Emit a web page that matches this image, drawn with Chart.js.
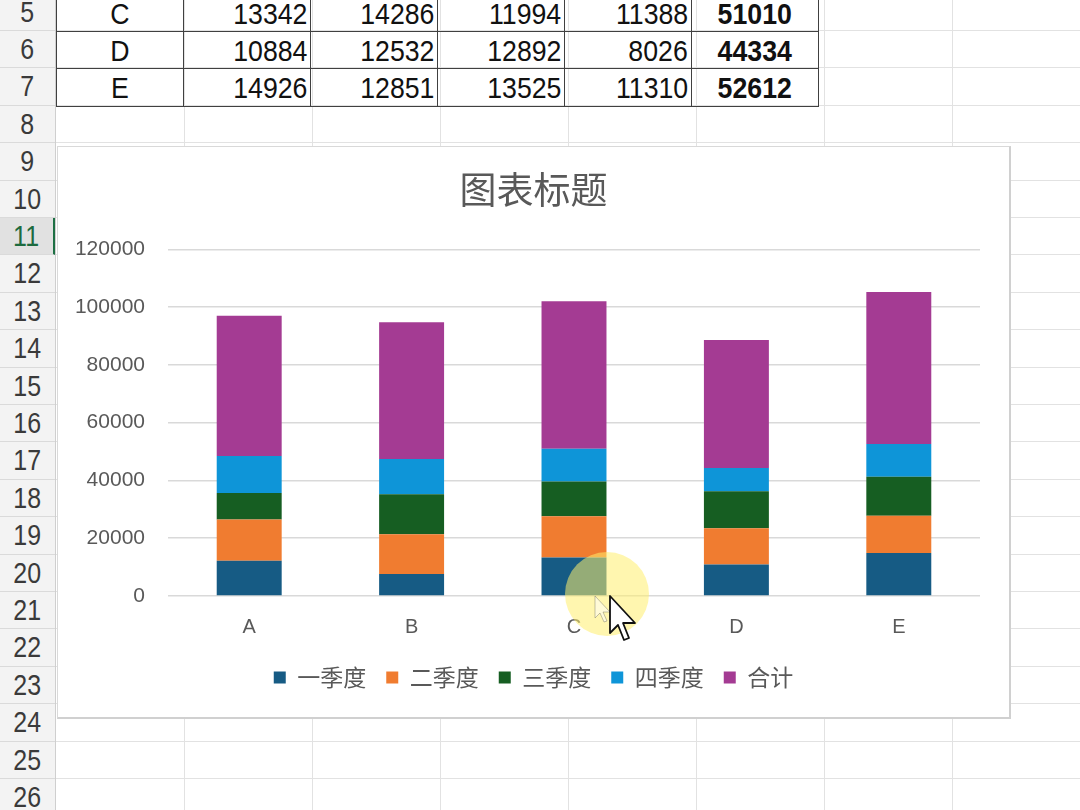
<!DOCTYPE html>
<html>
<head>
<meta charset="utf-8">
<script src="https://cdn.jsdelivr.net/npm/chart.js@4/dist/chart.umd.min.js"></script>
<style>
  html, body { margin: 0; padding: 0; }
  body {
    width: 1080px; height: 810px; overflow: hidden; position: relative;
    background: #fff; font-family: "Liberation Sans", sans-serif;
  }
  #sheet { position: absolute; left: 0; top: 0; width: 1080px; height: 810px; }
  .hline { position: absolute; left: 56px; width: 1024px; height: 1px; background: #e2e2e2; }
  .vline { position: absolute; top: 0; width: 1px; height: 810px; background: #e2e2e2; }
  .rowhead {
    position: absolute; left: 0; width: 55px; background: #f3f3f3;
    border-bottom: 1px solid #dadada; box-sizing: border-box;
    color: #3a3a3a; font-size: 29px; text-align: center;
  }
  .rowhead span { display: inline-block; transform: scaleX(0.86); }
  .rowhead.sel { background: #e1e1e1; color: #1d6b3f; border-right: 2px solid #1d7044; }
  #headborder { position: absolute; left: 55px; top: 0; width: 1px; height: 810px; background: #cfcfcf; }
  .cell {
    position: absolute; box-sizing: border-box; border: 1px solid #404040;
    font-size: 30px; color: #111; padding: 0 3px; white-space: nowrap;
  }
  .cell span { display: inline-block; transform: scaleX(0.89); }
  #chartBox {
    position: absolute; left: 57px; top: 146px; width: 951px; height: 570px;
    background: #fff; border: 1px solid #d9d9d9; border-right: 2px solid #d0d0d0; border-bottom: 2px solid #d0d0d0;
  }
  #overlay { position: absolute; left: 0; top: 0; pointer-events: none; }
</style>
</head>
<body>
<div id="sheet"></div>
<div id="chartBox"><canvas id="chart"></canvas></div>
<svg id="overlay" width="1080" height="810">
  <circle cx="607" cy="594" r="42" fill="rgba(255,238,110,0.55)"/>
  <path d="M595 596 L595 618 L600 613 L604 622 L607 621 L603 612 L610 612 Z" fill="rgba(255,255,255,0.5)" stroke="rgba(80,80,80,0.35)" stroke-width="1"/>
  <path d="M610 596 L610 633 L618 625 L624 640 L629 638 L623 623 L635 623 Z" fill="#fff" stroke="#111" stroke-width="1.8" stroke-linejoin="round"/>
</svg>
<script>
const categories = ['A', 'B', 'C', 'D', 'E'];
const seriesNames = ['一季度', '二季度', '三季度', '四季度', '合计'];
const q1 = [12200, 7600, 13342, 10884, 14926];
const q2 = [14300, 13800, 14286, 12532, 12851];
const q3 = [9200, 13800, 11994, 12892, 13525];
const q4 = [12800, 12200, 11388, 8026, 11310];
const total = [48500, 47400, 51010, 44334, 52612];
const colors = ['#165b84', '#f07c30', '#165e22', '#0e95d8', '#a43b93'];

// spreadsheet background
const sheet = document.getElementById('sheet');
const rowH = 37.4;
function rowTop(n) { return 31 + (n - 6) * rowH; }
for (let n = 5; n <= 26; n++) {
  const top = rowTop(n);
  const hl = document.createElement('div');
  hl.className = 'hline';
  hl.style.top = (top + rowH - 1) + 'px';
  sheet.appendChild(hl);
  const rh = document.createElement('div');
  rh.className = 'rowhead' + (n === 11 ? ' sel' : '');
  rh.style.top = top + 'px';
  rh.style.height = rowH + 'px';
  rh.style.lineHeight = rowH + 'px';
  rh.innerHTML = '<span>' + n + '</span>';
  sheet.appendChild(rh);
}
for (let x = 184; x <= 1080; x += 128) {
  const vl = document.createElement('div');
  vl.className = 'vline';
  vl.style.left = x + 'px';
  sheet.appendChild(vl);
}
const hb = document.createElement('div');
hb.id = 'headborder';
sheet.appendChild(hb);

// data table rows C, D, E
const colX = [56, 183, 310, 437, 564, 691, 818];
for (let r = 2; r < 5; r++) {
  const top = rowTop(r + 3);
  const vals = [categories[r], q1[r], q2[r], q3[r], q4[r], total[r]];
  vals.forEach((v, c) => {
    const d = document.createElement('div');
    d.className = 'cell';
    d.style.left = colX[c] + 'px';
    d.style.top = top + 'px';
    d.style.width = (colX[c + 1] - colX[c] + 1) + 'px';
    d.style.height = (rowH + 1) + 'px';
    d.style.lineHeight = rowH + 'px';
    const align = c === 0 || c === 5 ? 'center' : 'right';
    d.style.textAlign = align;
    if (c === 5) d.style.fontWeight = 'bold';
    const s = document.createElement('span');
    s.style.transformOrigin = align === 'right' ? 'right center' : 'center center';
    s.textContent = v;
    d.appendChild(s);
    sheet.appendChild(d);
  });
}

// chart
const values = [q1, q2, q3, q4, total];
const ctx = document.getElementById('chart').getContext('2d');
new Chart(ctx, {
  type: 'bar',
  data: {
    labels: categories,
    datasets: seriesNames.map((name, i) => ({
      label: name,
      data: values[i],
      backgroundColor: colors[i],
      borderWidth: 0,
      categoryPercentage: 1,
      barPercentage: 0.4
    }))
  },
  options: {
    responsive: true,
    maintainAspectRatio: false,
    animation: false,
    layout: { padding: { left: 0, right: 0, top: 0, bottom: 18 } },
    plugins: {
      title: {
        display: true,
        text: '图表标题',
        color: '#595959',
        font: { family: '"Noto Sans CJK SC", sans-serif', size: 37, weight: 'normal' },
        padding: { top: 21, bottom: 37 }
      },
      legend: {
        position: 'bottom',
        labels: {
          color: '#595959',
          font: { family: '"Noto Sans CJK SC", sans-serif', size: 23 },
          boxWidth: 12,
          boxHeight: 12,
          padding: 20
        }
      },
      tooltip: { enabled: false }
    },
    scales: {
      x: {
        stacked: true,
        grid: { display: false },
        border: { display: false },
        ticks: {
          color: '#595959',
          padding: 11,
          font: { family: '"Liberation Sans", sans-serif', size: 20 }
        },
        afterFit: (scale) => { scale.height = 50; }
      },
      y: {
        stacked: true,
        min: 0,
        max: 120000,
        grid: { color: '#d9d9d9', lineWidth: 1.5, drawTicks: false },
        border: { display: false },
        ticks: {
          stepSize: 20000,
          color: '#595959',
          padding: 23,
          font: { family: '"Liberation Sans", sans-serif', size: 21 },
          callback: (v) => String(v)
        },
        afterFit: (scale) => { scale.width = 110; }
      },
      // empty right margin so the title and legend stay centred on the whole chart box
      yRight: {
        position: 'right',
        grid: { display: false },
        border: { display: false },
        ticks: { display: false },
        afterFit: (scale) => { scale.width = 29; }
      }
    }
  }
});
</script>
</body>
</html>
